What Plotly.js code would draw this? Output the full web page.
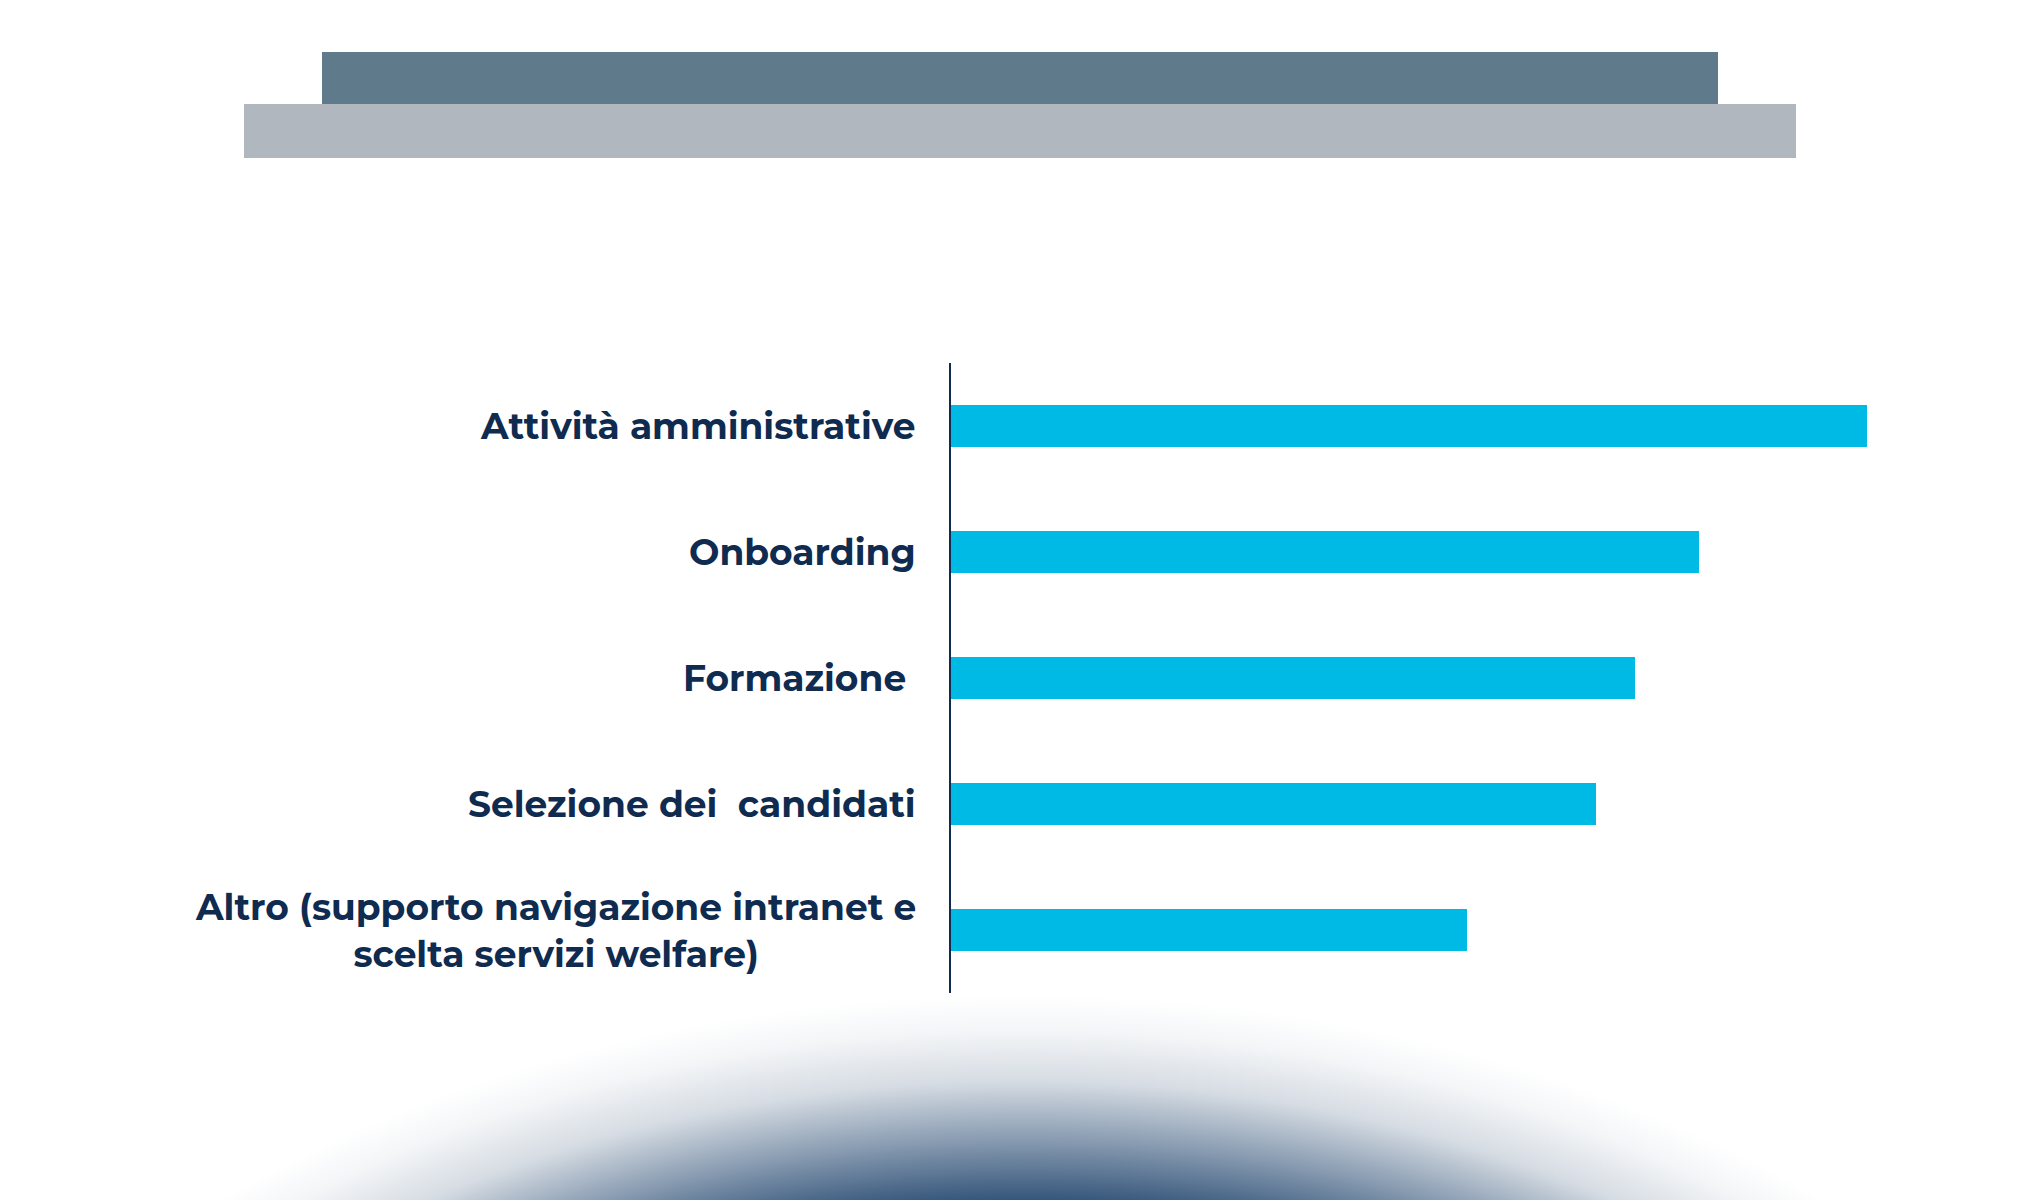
<!DOCTYPE html>
<html>
<head>
<meta charset="utf-8">
<script src="https://cdn.plot.ly/plotly-3.0.1.min.js"></script>
<style>
  html, body { margin: 0; padding: 0; background: #ffffff; }
  #chart { width: 2040px; height: 1200px; }
</style>
</head>
<body>
<div id="chart"></div>
<script>
// ---- data ----
const categories = [
  "Attività amministrative",
  "Onboarding",
  "Formazione\u00A0",
  "Selezione dei\u00A0 candidati",
  "Altro (supporto navigazione intranet e<br>scelta servizi welfare)"
];
const values = [71, 58, 53, 50, 40];

// ---- layout geometry (pixels) ----
const W = 2040, H = 1200;
const M = { l: 951, r: 173, t: 363, b: 207 };
const PW = W - M.l - M.r, PH = H - M.t - M.b;
const px = x => (x - M.l) / PW;          // pixel x -> paper x
const py = y => 1 - (y - M.t) / PH;      // pixel y -> paper y

const navy = "#0f2b50";
const barColor = "#00bae6";

const trace = {
  type: "bar",
  orientation: "h",
  x: values,
  y: categories,
  width: 0.33,
  marker: { color: barColor, line: { width: 0 } },
  hoverinfo: "skip"
};

const labelFont = { family: "Montserrat, 'Open Sans', sans-serif", size: 36, color: navy, weight: 700 };

const annotations = categories.map(c => ({
  xref: "paper", yref: "y",
  x: px(918), y: c,
  xanchor: "right", yanchor: "middle",
  text: c, align: "center",
  showarrow: false,
  font: labelFont
}));

const gradSvg =
  '<svg xmlns="http://www.w3.org/2000/svg" width="1605" height="210" viewBox="0 0 1605 210" preserveAspectRatio="none">' +
  '<defs><radialGradient id="g" gradientUnits="userSpaceOnUse" cx="0" cy="0" r="1" ' +
  'gradientTransform="translate(802,910) scale(1265,905)">' +
  '<stop offset="0" stop-color="#24466d"/>' +
  '<stop offset="0.765" stop-color="#2b4d74"/>' +
  '<stop offset="0.84" stop-color="#889bb1"/>' +
  '<stop offset="0.905" stop-color="#d6dce3"/>' +
  '<stop offset="0.96" stop-color="#f3f5f7"/>' +
  '<stop offset="1" stop-color="#ffffff"/>' +
  '</radialGradient></defs>' +
  '<rect x="0" y="0" width="1605" height="210" fill="url(#g)"/></svg>';

const layout = {
  width: W, height: H,
  margin: M,
  paper_bgcolor: "#ffffff",
  plot_bgcolor: "rgba(0,0,0,0)",
  showlegend: false,
  bargap: 0,
  xaxis: {
    range: [0, 71], visible: false, showgrid: false, zeroline: false, fixedrange: true
  },
  yaxis: {
    type: "category",
    range: [4.5, -0.5],
    showticklabels: false,
    ticks: "",
    showgrid: false,
    zeroline: false,
    showline: true,
    linecolor: navy,
    linewidth: 2,
    fixedrange: true
  },
  annotations: annotations,
  shapes: [
    { type: "rect", xref: "paper", yref: "paper", layer: "below",
      x0: px(244), x1: px(1796), y0: py(158), y1: py(104),
      fillcolor: "#b0b7be", line: { width: 0 } },
    { type: "rect", xref: "paper", yref: "paper", layer: "below",
      x0: px(322), x1: px(1718), y0: py(104), y1: py(52),
      fillcolor: "#5f7a8b", line: { width: 0 } }
  ],
  images: [
    { source: "data:image/svg+xml;charset=utf-8," + encodeURIComponent(gradSvg),
      xref: "paper", yref: "paper",
      x: px(220), y: py(990),
      sizex: 1605 / PW, sizey: 210 / PH,
      xanchor: "left", yanchor: "top",
      sizing: "stretch", layer: "below" }
  ]
};

Plotly.newPlot("chart", [trace], layout, { displayModeBar: false, staticPlot: true });
</script>
</body>
</html>
